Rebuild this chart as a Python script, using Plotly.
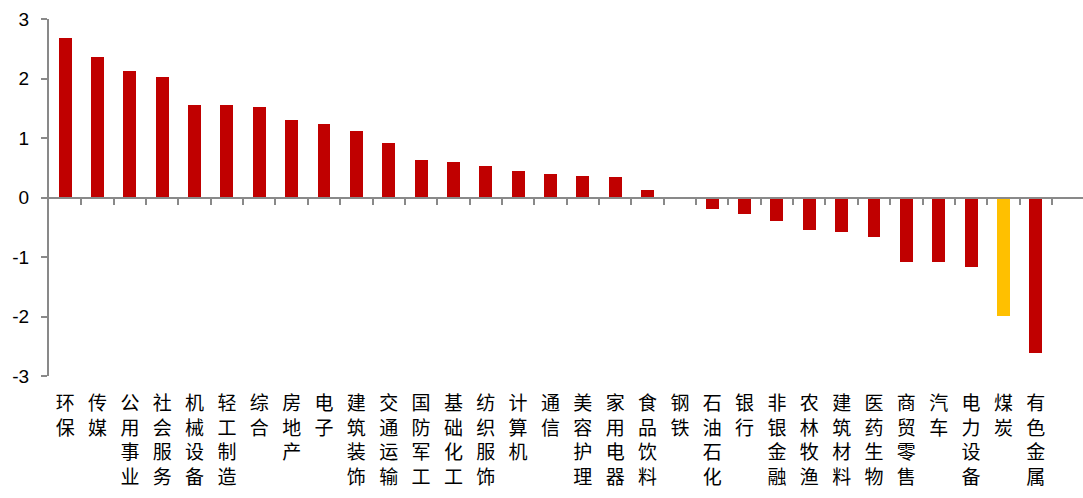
import plotly.graph_objects as go

categories = ["环保", "传媒", "公用事业", "社会服务", "机械设备", "轻工制造", "综合", "房地产",
              "电子", "建筑装饰", "交通运输", "国防军工", "基础化工", "纺织服饰", "计算机", "通信",
              "美容护理", "家用电器", "食品饮料", "钢铁", "石油石化", "银行", "非银金融", "农林牧渔",
              "建筑材料", "医药生物", "商贸零售", "汽车", "电力设备", "煤炭", "有色金属"]
values = [2.68, 2.36, 2.13, 2.03, 1.55, 1.55, 1.52, 1.31,
          1.24, 1.12, 0.92, 0.63, 0.60, 0.53, 0.45, 0.39,
          0.36, 0.34, 0.12, 0.0, -0.20, -0.27, -0.40, -0.54,
          -0.58, -0.67, -1.09, -1.09, -1.16, -1.99, -2.61]
highlight = "煤炭"
y_ticks = [3, 2, 1, 0, -1, -2, -3]

RED = "#C00000"
YELLOW = "#FFC000"
GRAY = "#898989"

n = len(categories)
xs = list(range(n))
colors = [YELLOW if c == highlight else RED for c in categories]
labels = ["<br>".join(list(c)) for c in categories]

fig = go.Figure()
fig.add_trace(go.Bar(x=xs, y=values, marker=dict(color=colors, line=dict(width=0)),
                     width=0.4, showlegend=False, hoverinfo="skip"))
# invisible trace to activate xaxis2 (axis line at y=0)
fig.add_trace(go.Scatter(x=[xs[0]], y=[0], xaxis="x2", mode="markers",
                         marker=dict(opacity=0), showlegend=False, hoverinfo="skip"))

xrange = [-0.5, n - 0.5 + 0.96]
fig.update_layout(
    width=1083, height=498,
    margin=dict(l=49, r=0, t=19, b=122),
    plot_bgcolor="white", paper_bgcolor="white",
    bargap=0,
    xaxis=dict(range=xrange, tickmode="array", tickvals=xs, ticktext=labels,
               showline=False, showgrid=False, zeroline=False, ticks="",
               tickangle=0, ticklabelstandoff=14,
               tickfont=dict(family="Noto Sans CJK SC", size=19, color="#000000")),
    xaxis2=dict(range=xrange, overlaying="x", anchor="free", position=0.5,
                tickmode="array", tickvals=[i + 0.5 for i in xs],
                showticklabels=False, showline=True, linecolor=GRAY, linewidth=2,
                ticks="outside", ticklen=6, tickwidth=2, tickcolor=GRAY,
                showgrid=False, zeroline=False),
    yaxis=dict(range=[-3, 3], tickmode="array", tickvals=y_ticks,
               ticktext=[str(v) for v in y_ticks],
               showline=True, linecolor=GRAY, linewidth=2,
               ticks="outside", ticklen=6, tickwidth=2, tickcolor=GRAY,
               showgrid=False, zeroline=False, ticklabelstandoff=8,
               tickfont=dict(family="Liberation Sans, Arial", size=19, color="#000000")),
)

fig.write_html("out.html")
